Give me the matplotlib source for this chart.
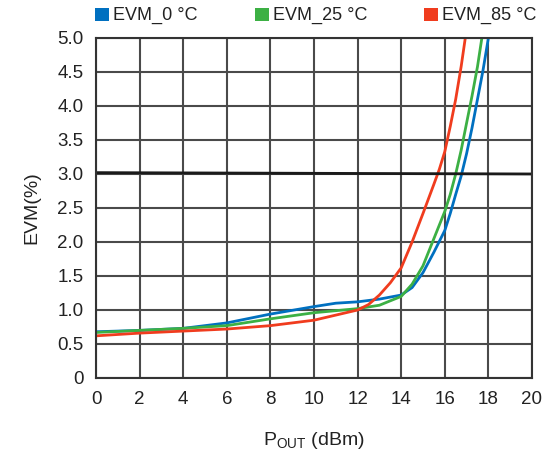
import matplotlib
matplotlib.use("Agg")
import matplotlib.pyplot as plt
from matplotlib.patches import Rectangle
import numpy as np

plt.rcParams['font.family'] = ['Liberation Sans Narrow', 'Liberation Sans', 'DejaVu Sans']
plt.rcParams['mathtext.fontset'] = 'custom'
plt.rcParams['mathtext.rm'] = 'Liberation Sans'

# curves
x_0c = [0, 2, 4, 6, 8, 10, 11, 12, 13, 14, 14.5, 15, 15.5, 16, 16.25, 16.5, 16.75, 17, 17.25, 17.5, 17.75, 18]
evm_0c = [0.68, 0.70, 0.73, 0.81, 0.94, 1.05, 1.10, 1.12, 1.16, 1.22, 1.33, 1.55, 1.85, 2.17, 2.42, 2.70, 2.97, 3.30, 3.68, 4.10, 4.52, 5.0]

x_25c = [0, 2, 4, 6, 8, 10, 12, 13, 14, 14.5, 15, 15.5, 16, 16.25, 16.5, 16.75, 17, 17.25, 17.5, 17.7]
evm_25c = [0.67, 0.70, 0.73, 0.77, 0.87, 0.96, 1.02, 1.07, 1.20, 1.38, 1.65, 2.05, 2.45, 2.70, 3.0, 3.35, 3.75, 4.15, 4.58, 5.0]

x_85c = [0, 2, 4, 6, 8, 10, 12, 12.5, 13, 13.5, 14, 14.5, 15, 15.5, 15.75, 16, 16.25, 16.5, 16.75, 16.94]
evm_85c = [0.62, 0.66, 0.69, 0.72, 0.77, 0.85, 1.0, 1.08, 1.22, 1.40, 1.62, 2.0, 2.42, 2.85, 3.07, 3.33, 3.70, 4.10, 4.58, 5.0]

limit_x = [0, 20]
limit_y = [3.02, 3.0]

labels = ["EVM_0 °C", "EVM_25 °C", "EVM_85 °C"]
colors = ["#0070c0", "#3cb044", "#f03c1e"]
legend_x = [95, 255, 424]  # left edge of each legend square, px

W, H = 544, 455
fig = plt.figure(figsize=(W / 100, H / 100), dpi=100)
ax = fig.add_axes([96 / W, 1 - 378 / H, 436 / W, 340 / H])

for xs, ys, c in zip([x_0c, x_25c, x_85c], [evm_0c, evm_25c, evm_85c], colors):
    ax.plot(xs, ys, color=c, lw=2.0, solid_joinstyle='round')
ax.plot(limit_x, limit_y, color='#1a1a1a', lw=2.0)

ax.set_xlim(0, 20)
ax.set_ylim(0, 5)
ax.set_xticks(np.arange(0, 21, 2))
ax.set_yticks(np.arange(0, 5.01, 0.5))
ax.set_yticklabels(["0"] + [f"{v:.1f}" for v in np.arange(0.5, 5.01, 0.5)])
ax.tick_params(length=0, labelsize=13.5, pad=9, colors='#222222')
ax.grid(True, color='#4a4a4a', lw=1.5)
for s in ax.spines.values():
    s.set_color('#333333')
    s.set_linewidth(1.5)

ax.set_xlabel(r"P$_{\mathrm{OUT}}$ (dBm)", fontsize=14, labelpad=16, color='#222222')
ax.set_ylabel("EVM(%)", fontsize=14, labelpad=12, color='#222222')

# legend drawn by hand above the plot
for lx, lab, c in zip(legend_x, labels, colors):
    fig.patches.append(Rectangle((lx / W, 1 - 21 / H), 14 / W, 13 / H, transform=fig.transFigure,
                                 facecolor=c, edgecolor='none'))
    fig.text((lx + 18) / W, 1 - 15 / H, lab, fontsize=13, va='center', ha='left', color='#222222')

fig.savefig("out.png", dpi=100)
